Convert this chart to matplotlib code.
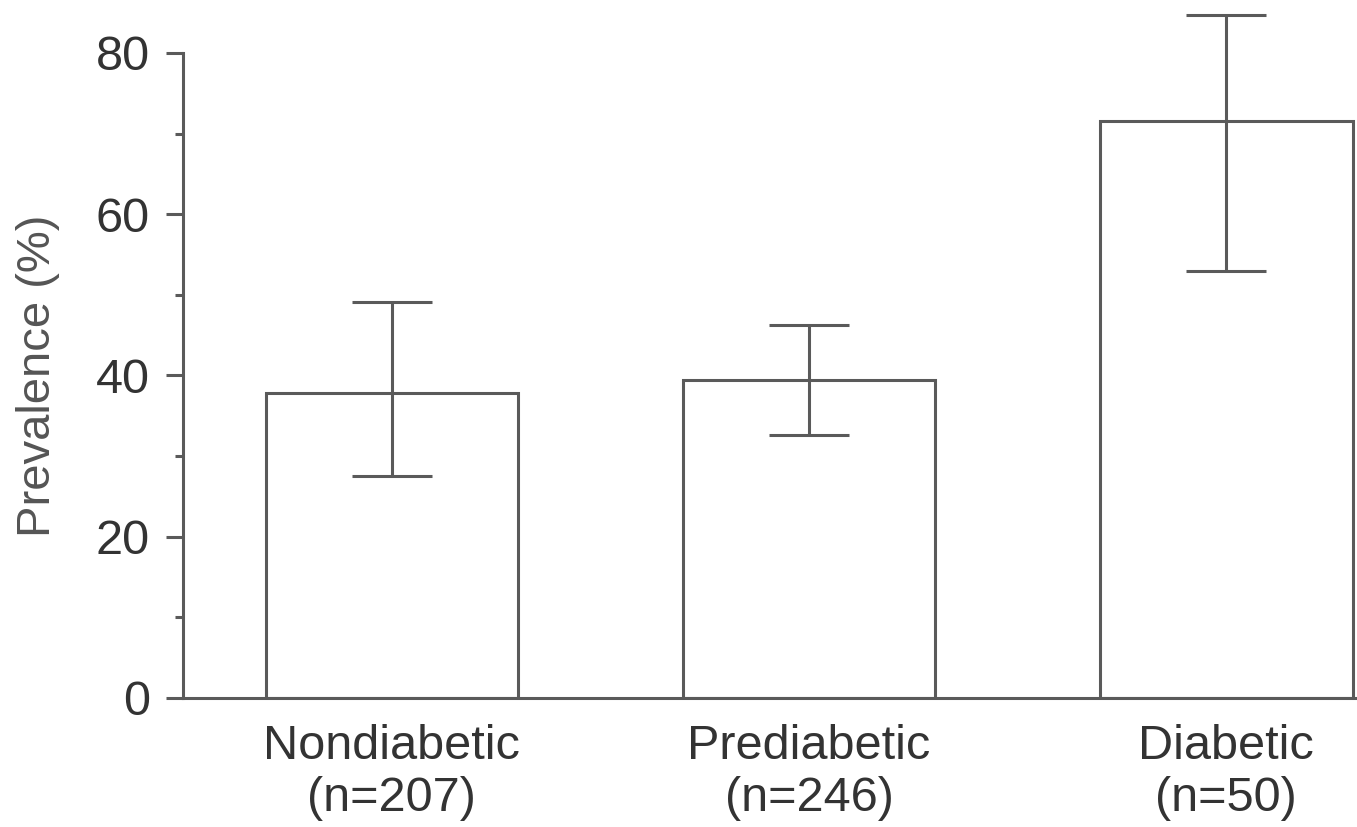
import matplotlib.pyplot as plt

plt.rcParams['font.family'] = ['Liberation Sans', 'DejaVu Sans']

groups = ['Nondiabetic\n(n=207)', 'Prediabetic\n(n=246)', 'Diabetic\n(n=50)']
prevalence = [37.8, 39.4, 71.5]
ci_low = [27.5, 32.6, 53.0]
ci_high = [49.1, 46.3, 84.7]

line_col = '#5a5a5a'
text_col = '#333333'

fig = plt.figure(figsize=(13.57, 8.27), dpi=100)
ax = fig.add_axes([0.135, 0.156, 0.864, 0.78])

x = range(len(groups))
err = [[p - l for p, l in zip(prevalence, ci_low)],
       [h - p for p, h in zip(prevalence, ci_high)]]
ax.bar(x, prevalence, width=0.605, color='white', edgecolor=line_col, linewidth=2.2, zorder=2)
ax.errorbar(x, prevalence, yerr=err, fmt='none', ecolor=line_col, elinewidth=2.2,
            capsize=29, capthick=2.2, zorder=3, clip_on=False)

ax.set_xlim(-0.5, 2.31)
ax.set_ylim(0, 80)
ax.set_yticks([0, 20, 40, 60, 80])
ax.set_yticks([10, 30, 50, 70], minor=True)
ax.set_xticks(list(x))
ax.set_xticklabels(groups, fontsize=35, color=text_col, linespacing=1.2)
ax.tick_params(axis='x', length=0, pad=19)
ax.tick_params(axis='y', which='major', length=12, width=2.2, color=line_col,
               labelsize=35, labelcolor=text_col, pad=12)
ax.tick_params(axis='y', which='minor', length=6, width=2.2, color=line_col)
ax.set_ylabel('Prevalence (%)', fontsize=34, color='#555555', labelpad=26)

for s in ['top', 'right']:
    ax.spines[s].set_visible(False)
for s in ['left', 'bottom']:
    ax.spines[s].set_color(line_col)
    ax.spines[s].set_linewidth(2.2)

fig.savefig('out.png', dpi=100)
